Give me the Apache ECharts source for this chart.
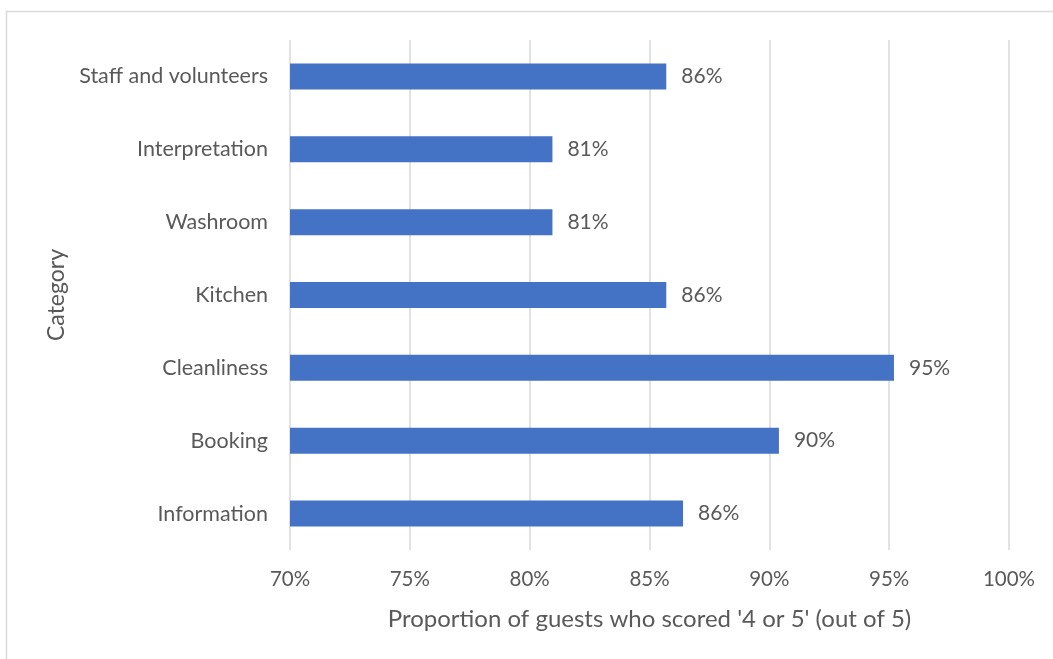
<!DOCTYPE html>
<html>
<head>
<meta charset="utf-8">
<script src="https://cdn.jsdelivr.net/npm/echarts@6/dist/echarts.min.js"></script>
<style>
  html, body { margin: 0; padding: 0; background: #ffffff; }
  #chart { width: 1053px; height: 659px; }
</style>
</head>
<body>
<div id="chart"></div>
<script>
// Survey categories, listed top to bottom
const categories = [
  'Staff and volunteers',
  'Interpretation',
  'Washroom',
  'Kitchen',
  'Cleanliness',
  'Booking',
  'Information'
];
// Share of guests scoring 4 or 5, in percent
const shares = [85.7, 80.95, 80.95, 85.7, 95.2, 90.4, 86.4];
// Value axis range and step, in percent
const axisMin = 70;
const axisMax = 100;
const axisStep = 5;

const textColor = '#595959';
const fontFamily = 'Lato, "Open Sans", sans-serif';

const chart = echarts.init(document.getElementById('chart'));
chart.setOption({
  animation: false,
  backgroundColor: '#ffffff',
  graphic: [{
    type: 'rect',
    shape: { x: 6.5, y: 11.5, width: 1100, height: 700 },
    style: { fill: 'none', stroke: '#d9d9d9', lineWidth: 1.5 },
    silent: true
  }],
  grid: { left: 290, right: 44, top: 40, bottom: 109, containLabel: false },
  xAxis: {
    type: 'value',
    min: axisMin,
    max: axisMax,
    interval: axisStep,
    axisLine: { show: false },
    axisTick: { show: false },
    splitLine: { show: true, lineStyle: { color: '#d9d9d9', width: 1.5 } },
    axisLabel: {
      formatter: '{value}%',
      color: textColor,
      fontFamily: fontFamily,
      fontSize: 20.5,
      margin: 19
    },
    name: "Proportion of guests who scored '4 or 5' (out of 5)",
    nameLocation: 'middle',
    nameGap: 57,
    nameTextStyle: { color: textColor, fontFamily: fontFamily, fontSize: 24 }
  },
  yAxis: {
    type: 'category',
    data: categories,
    inverse: true,
    axisLine: { show: false },
    axisTick: { show: false },
    splitLine: { show: false },
    axisLabel: {
      color: textColor,
      fontFamily: fontFamily,
      fontSize: 21.5,
      margin: 22
    },
    name: 'Category',
    nameLocation: 'middle',
    nameGap: 222,
    nameRotate: 90,
    nameTextStyle: { color: textColor, fontFamily: fontFamily, fontSize: 23 }
  },
  series: [{
    type: 'bar',
    data: shares,
    barWidth: 26,
    itemStyle: { color: '#4472C4' },
    label: {
      show: true,
      position: 'right',
      distance: 15,
      color: textColor,
      fontFamily: fontFamily,
      fontSize: 21,
      formatter: p => Math.round(p.value) + '%'
    }
  }]
});
</script>
</body>
</html>
